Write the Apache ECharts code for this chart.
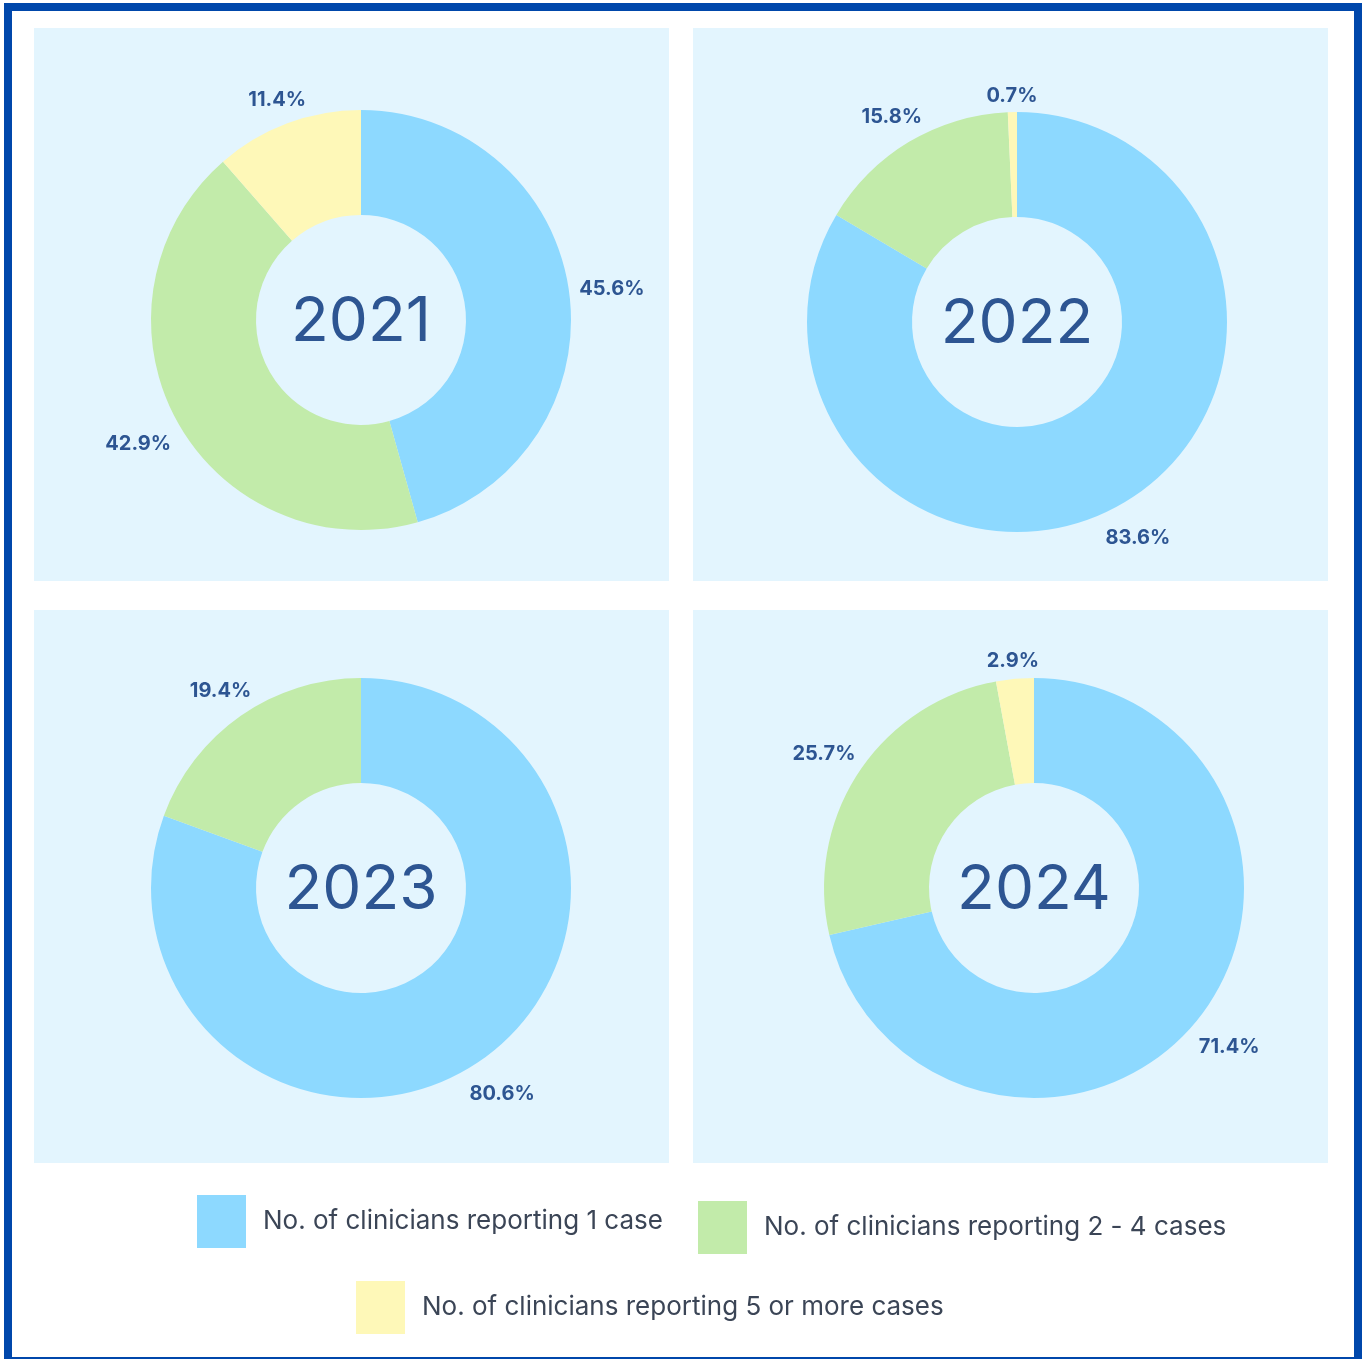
<!DOCTYPE html>
<html><head><meta charset="utf-8">
<script src="https://cdn.jsdelivr.net/npm/echarts@6/dist/echarts.min.js"></script>
<style>html,body{margin:0;padding:0;background:#fff}#c{width:1362px;height:1359px}</style>
</head><body><div id="c"></div>
<script>
const years = ['2021', '2022', '2023', '2024'];
const categories = [
  'No. of clinicians reporting 1 case',
  'No. of clinicians reporting 2 - 4 cases',
  'No. of clinicians reporting 5 or more cases'
];
const share2021 = [45.6, 42.9, 11.4];
const share2022 = [83.6, 15.8, 0.7];
const share2023 = [80.6, 19.4, 0];
const share2024 = [71.4, 25.7, 2.9];
const shares = [share2021, share2022, share2023, share2024];

const colors = ['#8DD9FF', '#C2EBAA', '#FEF8B8'];
const centers = [[361, 320], [1017, 322], [361, 888], [1034, 888]];
const panelPos = [[34, 28], [693, 28], [34, 610], [693, 610]];
const PW = 635, PH = 553, R = 210, R0 = 105;
const labelColor = '#2D5592';
const FONT = 'Inter, "DejaVu Sans", sans-serif';

const chart = echarts.init(document.getElementById('c'), null, { renderer: 'canvas' });

function makeLayout(si) {
  return function (p) {
    const vals = shares[si];
    const total = vals.reduce((a, b) => a + b, 0);
    let before = 0;
    for (let i = 0; i < p.dataIndex; i++) before += vals[i];
    const mid = (before + vals[p.dataIndex] / 2) / total * 2 * Math.PI;
    const dx = Math.sin(mid), dy = -Math.cos(mid);
    const d = R + 9.5 + Math.abs(dx) * p.labelRect.width / 2 + Math.abs(dy) * 10;
    return { x: centers[si][0] + dx * d, y: centers[si][1] + dy * d + 4, align: 'center', verticalAlign: 'middle' };
  };
}

const series = shares.map((vals, si) => ({
  type: 'pie',
  center: centers[si],
  radius: [R0, R],
  startAngle: 90,
  clockwise: true,
  silent: true,
  animation: false,
  avoidLabelOverlap: false,
  itemStyle: { borderWidth: 0 },
  emphasis: { disabled: true },
  labelLine: { show: false },
  label: {
    show: true,
    position: 'outside',
    formatter: p => p.value.toFixed(1) + '%',
    color: labelColor,
    fontFamily: FONT,
    fontWeight: 'bold',
    fontSize: 20
  },
  labelLayout: makeLayout(si),
  data: categories.map((name, i) => ({
    name: name,
    value: vals[i],
    itemStyle: { color: colors[i] },
    label: { show: vals[i] > 0 }
  }))
}));

const graphic = [];
panelPos.forEach(p => {
  graphic.push({ type: 'rect', z: -10, shape: { x: p[0], y: p[1], width: PW, height: PH }, style: { fill: '#E3F5FE' }, silent: true });
});
years.forEach((y, i) => {
  graphic.push({
    type: 'text', z: 100, x: centers[i][0], y: centers[i][1] + 2,
    style: { text: y, align: 'center', verticalAlign: 'middle', fill: labelColor, font: '400 62px ' + FONT }
  });
});
graphic.push({ type: 'rect', z: 100, shape: { x: 8, y: 7, width: 1350, height: 1354 }, style: { fill: null, stroke: '#0047AB', lineWidth: 8 }, silent: true });

const legendPos = [[197, 1195], [698, 1201], [356, 1281]];
const legend = categories.map((name, i) => ({
  data: [name],
  left: legendPos[i][0],
  top: legendPos[i][1],
  icon: 'rect',
  itemWidth: 49,
  itemHeight: 53,
  selectedMode: false,
  padding: 0,
  textStyle: { fontSize: 26, color: '#3B4556', fontFamily: FONT, padding: [0, 0, 0, 12] }
}));

chart.setOption({
  animation: false,
  backgroundColor: '#ffffff',
  color: colors,
  legend: legend,
  graphic: graphic,
  series: series
});
</script>
</body></html>
